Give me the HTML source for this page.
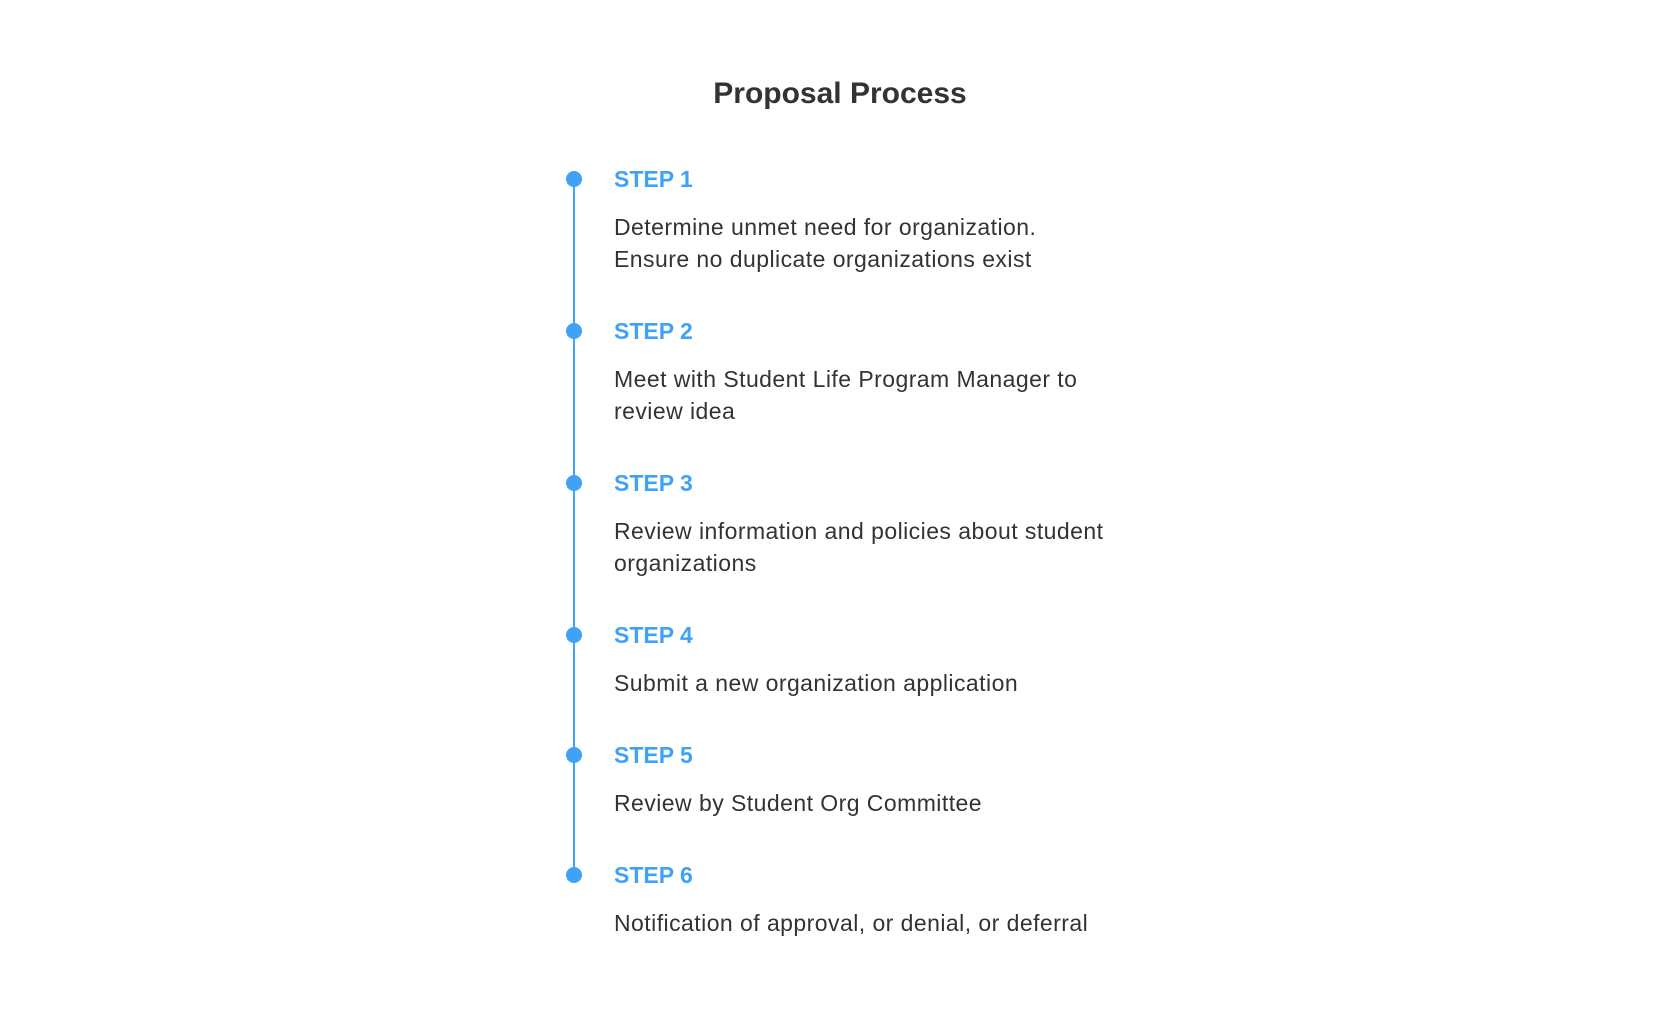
<!DOCTYPE html>
<html><head><meta charset="utf-8"><style>
html,body{margin:0;padding:0;background:#fff;}
body{width:1680px;height:1011px;position:relative;overflow:hidden;font-family:"Liberation Sans",sans-serif;}
.t{position:absolute;left:0;width:1680px;text-align:center;top:77px;font-size:30px;font-weight:bold;color:#333;}
.line{position:absolute;left:573px;top:179px;width:2px;height:696px;background:#3fa2f7;}
.dot{position:absolute;left:566px;width:16px;height:16px;border-radius:50%;background:#3fa2f7;}
.s{position:absolute;left:614px;font-size:23px;font-weight:bold;color:#3fa2f7;line-height:28px;}
.d{position:absolute;left:614px;font-size:23px;letter-spacing:0.45px;color:#333;line-height:32px;}
</style></head><body>
<div class="t">Proposal Process</div>
<div class="line"></div>
<div class="dot" style="top:171px"></div><div class="s" style="top:165px">STEP 1</div>
<div class="d" style="top:211px">Determine unmet need for organization.<br>Ensure no duplicate organizations exist</div>
<div class="dot" style="top:323px"></div><div class="s" style="top:317px">STEP 2</div>
<div class="d" style="top:363px">Meet with Student Life Program Manager to<br>review idea</div>
<div class="dot" style="top:475px"></div><div class="s" style="top:469px">STEP 3</div>
<div class="d" style="top:515px">Review information and policies about student<br>organizations</div>
<div class="dot" style="top:627px"></div><div class="s" style="top:621px">STEP 4</div>
<div class="d" style="top:667px">Submit a new organization application</div>
<div class="dot" style="top:747px"></div><div class="s" style="top:741px">STEP 5</div>
<div class="d" style="top:787px">Review by Student Org Committee</div>
<div class="dot" style="top:867px"></div><div class="s" style="top:861px">STEP 6</div>
<div class="d" style="top:907px">Notification of approval, or denial, or deferral</div>
</body></html>
